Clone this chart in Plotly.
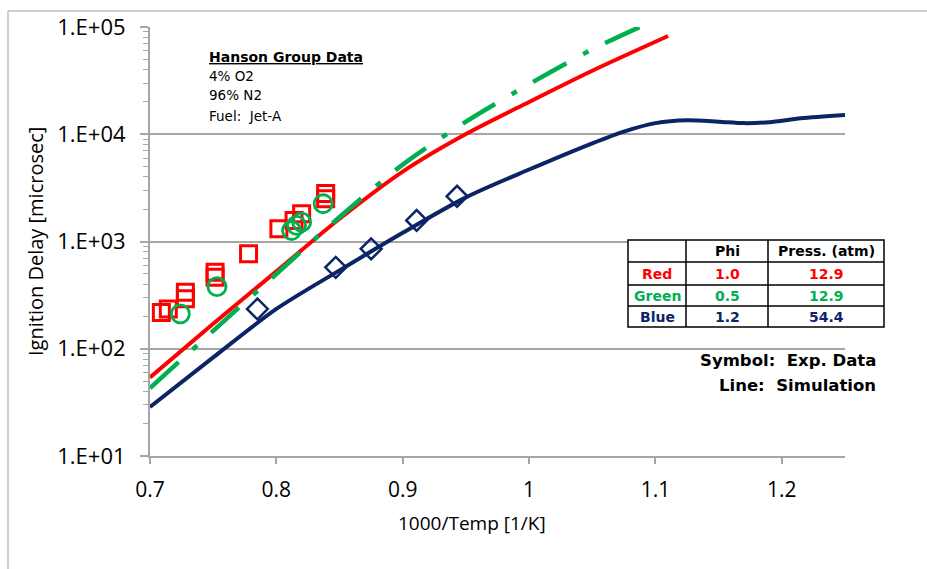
import plotly.graph_objects as go

# ---------------- data ----------------
red_sim_x = [0.70, 0.75, 0.80, 0.85, 0.90, 0.95, 1.00, 1.05, 1.11]
red_sim_y = [54, 171, 527, 1630, 4490, 10050, 20000, 39100, 82400]

green_sim_x = [0.70, 0.75, 0.80, 0.85, 0.90, 0.95, 1.00, 1.05, 1.10]
green_sim_y = [43, 147, 498, 1690, 5210, 13090, 29300, 61900, 116700]

blue_sim_x = [0.70, 0.75, 0.80, 0.85, 0.90, 0.95, 1.00, 1.05, 1.075, 1.10, 1.125, 1.15, 1.17, 1.19, 1.215, 1.25]
blue_sim_y = [28.6, 83, 235, 538, 1205, 2580, 4690, 8240, 10600, 12700, 13500, 13100, 12700, 12950, 14100, 15140]

red_exp_x = [0.709, 0.7145, 0.728, 0.728, 0.7515, 0.7515, 0.778, 0.802, 0.814, 0.820, 0.839, 0.839]
red_exp_y = [218, 235, 336, 293, 516, 464, 767, 1315, 1572, 1815, 2505, 2810]

green_exp_x = [0.724, 0.753, 0.812, 0.816, 0.820, 0.837]
green_exp_y = [211, 379, 1266, 1411, 1515, 2250]

blue_exp_x = [0.785, 0.847, 0.875, 0.911, 0.943]
blue_exp_y = [235, 574, 854, 1573, 2640]

x_tick_vals = [0.7, 0.8, 0.9, 1.0, 1.1, 1.2]
x_tick_text = ["0.7", "0.8", "0.9", "1", "1.1", "1.2"]
y_tick_vals = [10, 100, 1000, 10000, 100000]
y_tick_text = ["1.E+01", "1.E+02", "1.E+03", "1.E+04", "1.E+05"]

table_header = ["", "Phi", "Press. (atm)"]
table_rows = [["Red", "1.0", "12.9"], ["Green", "0.5", "12.9"], ["Blue", "1.2", "54.4"]]

note_lines = ["Hanson Group Data", "4% O2", "96% N2", "Fuel:\u00a0\u00a0Jet-A"]
legend_lines = ["Symbol:\u00a0\u00a0Exp. Data", "Line:\u00a0\u00a0Simulation"]

RED = "#FF0000"
GREEN = "#00B050"
BLUE = "#0B2465"
GRID = "#A6A6A6"

# ---------------- layout geometry (pixels) ----------------
W, H = 927, 569
L, R, T, B = 150, 845, 27, 456


def px(x):
    return (x - L) / (R - L)


def py(y):
    return (B - y) / (B - T)


fig = go.Figure()

fig.add_trace(go.Scatter(x=red_exp_x, y=red_exp_y, mode="markers",
                         marker=dict(symbol="square-open", size=16, color=RED, line=dict(width=3, color=RED)),
                         showlegend=False, cliponaxis=False))
fig.add_trace(go.Scatter(x=green_exp_x, y=green_exp_y, mode="markers",
                         marker=dict(symbol="circle-open", size=18, color=GREEN, line=dict(width=2.8, color=GREEN)),
                         showlegend=False))
fig.add_trace(go.Scatter(x=blue_exp_x, y=blue_exp_y, mode="markers",
                         marker=dict(symbol="diamond-open", size=16, color=BLUE, line=dict(width=2.5, color=BLUE)),
                         showlegend=False))
fig.add_trace(go.Scatter(x=blue_sim_x, y=blue_sim_y, mode="lines",
                         line=dict(color=BLUE, width=4, shape="spline", smoothing=0.8), showlegend=False))
fig.add_trace(go.Scatter(x=red_sim_x, y=red_sim_y, mode="lines",
                         line=dict(color=RED, width=4, shape="spline", smoothing=0.8), showlegend=False))
fig.add_trace(go.Scatter(x=green_sim_x, y=green_sim_y, mode="lines",
                         line=dict(color=GREEN, width=4.5, dash="38px,19px,6px,19px", shape="spline", smoothing=0.8),
                         showlegend=False))

minor_vals = [m * 10 ** k for k in range(1, 5) for m in range(2, 10)]

fig.update_xaxes(range=[0.7, 1.25], tickvals=x_tick_vals, ticktext=x_tick_text,
                 showgrid=False, zeroline=False, showline=True, linecolor=GRID, linewidth=2,
                 ticks="outside", ticklen=6, tickcolor=GRID, tickwidth=1.5,
                 tickfont=dict(family="Open Sans", size=21, color="black"), ticklabelstandoff=8)
fig.update_yaxes(type="log", range=[1, 5], tickvals=y_tick_vals, ticktext=y_tick_text,
                 showgrid=True, gridcolor=GRID, gridwidth=1.5, zeroline=False,
                 showline=True, linecolor=GRID, linewidth=2,
                 ticks="outside", ticklen=8, tickcolor=GRID, tickwidth=1.5,
                 minor=dict(tickvals=minor_vals, ticks="outside", ticklen=5, tickcolor=GRID, tickwidth=1, showgrid=False),
                 tickfont=dict(family="Open Sans", size=22, color="black"), ticklabelstandoff=10)

shapes = []
annotations = []

# outer chart border (top and left edges visible)
shapes.append(dict(type="line", xref="paper", yref="paper", x0=px(8), x1=px(940), y0=py(11), y1=py(11),
                   line=dict(color="#BFBFBF", width=1.5)))
shapes.append(dict(type="line", xref="paper", yref="paper", x0=px(8), x1=px(8), y0=py(11), y1=py(580),
                   line=dict(color="#BFBFBF", width=1.5)))

# axis titles
annotations.append(dict(text="1000/Temp [1/K]", xref="paper", yref="paper", x=px(472), y=py(523),
                        xanchor="center", yanchor="middle",
                        showarrow=False, font=dict(family="Open Sans", size=19, color="black")))
annotations.append(dict(text="Ignition Delay [microsec]", xref="paper", yref="paper", x=px(35), y=py(242),
                        xanchor="center", yanchor="middle",
                        textangle=-90, showarrow=False, font=dict(family="Open Sans", size=20, color="black")))

# note block
note_y = [57, 76, 95, 116]
for i, t in enumerate(note_lines):
    txt = "<b><u>%s</u></b>" % t if i == 0 else t
    annotations.append(dict(text=txt, xref="paper", yref="paper", x=px(207), y=py(note_y[i]),
                            xanchor="left", yanchor="middle", showarrow=False,
                            font=dict(family="DejaVu Sans", size=14 if i == 0 else 13.5, color="black")))

# symbol / line legend
for i, t in enumerate(legend_lines):
    annotations.append(dict(text="<b>%s</b>" % t, xref="paper", yref="paper", x=px(878), y=py(360 + 25 * i),
                            xanchor="right", yanchor="middle", showarrow=False,
                            font=dict(family="DejaVu Sans", size=16.5, color="black")))

# table
col_edges = [628, 686, 768, 884]
row_edges = [240, 262, 285, 306, 327]
shapes.append(dict(type="rect", xref="paper", yref="paper", x0=px(col_edges[0]), x1=px(col_edges[-1]),
                   y0=py(row_edges[0]), y1=py(row_edges[-1]), fillcolor="white",
                   line=dict(color="black", width=1.5), layer="above"))
for cx in col_edges[1:-1]:
    shapes.append(dict(type="line", xref="paper", yref="paper", x0=px(cx), x1=px(cx),
                       y0=py(row_edges[0]), y1=py(row_edges[-1]), line=dict(color="black", width=1.5)))
for ry in row_edges[1:-1]:
    shapes.append(dict(type="line", xref="paper", yref="paper", x0=px(col_edges[0]), x1=px(col_edges[-1]),
                       y0=py(ry), y1=py(ry), line=dict(color="black", width=1.5)))

row_colors = [RED, GREEN, BLUE]
all_rows = [table_header] + table_rows
colors = ["black"] + row_colors
for r, row in enumerate(all_rows):
    yc = (row_edges[r] + row_edges[r + 1]) / 2
    for c, t in enumerate(row):
        if not t:
            continue
        xc = (col_edges[c] + col_edges[c + 1]) / 2
        annotations.append(dict(text="<b>%s</b>" % t, xref="paper", yref="paper", x=px(xc), y=py(yc),
                                xanchor="center", yanchor="middle", showarrow=False,
                                font=dict(family="DejaVu Sans", size=14, color=colors[r])))

fig.update_layout(width=W, height=H, margin=dict(l=L, r=W - R, t=T, b=H - B),
                  paper_bgcolor="white", plot_bgcolor="white",
                  shapes=shapes, annotations=annotations, showlegend=False)

fig.write_html("out.html")
